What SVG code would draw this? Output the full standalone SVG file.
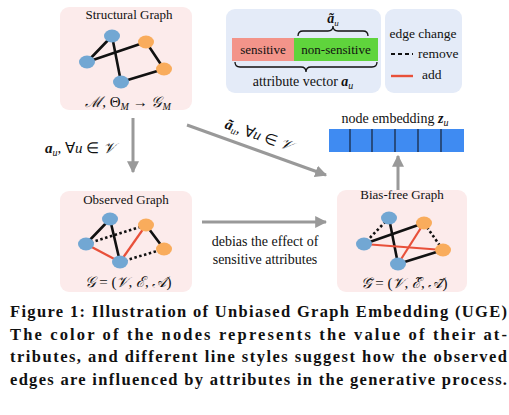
<svg xmlns="http://www.w3.org/2000/svg" width="509" height="415" viewBox="0 0 509 415">
<defs>
<marker id="ah" viewBox="0 0 10 10" refX="9" refY="5" markerWidth="4" markerHeight="4" orient="auto" markerUnits="strokeWidth">
<path d="M0,0 L10,5 L0,10 Z" fill="#999"/>
</marker>
<style>
.box{fill:#fcebeb;}
.abox{fill:#e4ebf8;}
.t{font-family:"Liberation Serif",serif;fill:#111;}
.m{font-family:"Liberation Serif",serif;font-style:italic;fill:#111;}
.e{stroke:#111;stroke-width:2.6;fill:none;stroke-linecap:round;}
.d{stroke:#111;stroke-width:2.6;fill:none;stroke-dasharray:2.5 2.5;}
.r{stroke:#e8503a;stroke-width:2.2;fill:none;}
.nb{fill:#72a7d3;}
.no{fill:#f9ac5c;}
.arr{stroke:#999;stroke-width:3;fill:none;marker-end:url(#ah);}
.cap{font-family:"Liberation Serif",serif;font-weight:bold;font-size:16.5px;fill:#111;}
</style>
</defs>

<g id="connectors">
<line class="arr" x1="133" y1="118" x2="133" y2="172"/>
<line class="arr" x1="187" y1="125" x2="326" y2="175"/>
<line class="arr" x1="202" y1="222" x2="326" y2="222"/>
<line class="arr" x1="398" y1="190" x2="398" y2="156"/>
<text class="m" x="45" y="153" font-size="15"><tspan font-weight="bold">a</tspan><tspan font-size="10" dy="3">u</tspan><tspan dy="-3" font-style="normal">, ∀</tspan>u<tspan font-style="normal"> ∈ </tspan>𝒱</text>
<text class="m" font-size="15" transform="translate(224,128) rotate(19.6)"><tspan font-weight="bold">ã</tspan><tspan font-size="10" dy="3">u</tspan><tspan dy="-3" font-style="normal">, ∀</tspan>u<tspan font-style="normal"> ∈ </tspan>𝒱</text>
<text class="t" x="265" y="246" font-size="14" text-anchor="middle">debias the effect of</text>
<text class="t" x="265" y="264" font-size="14" text-anchor="middle">sensitive attributes</text>
</g>

<g id="structural-graph">
<rect class="box" x="60" y="7" width="132" height="103" rx="9"/>
<text class="t" x="129" y="19" font-size="13" text-anchor="middle">Structural Graph</text>
<line class="e" x1="112" y1="36" x2="87" y2="62"/>
<line class="e" x1="112" y1="36" x2="121" y2="82"/>
<line class="e" x1="87" y1="62" x2="146" y2="42"/>
<line class="e" x1="146" y1="42" x2="164" y2="69"/>
<line class="e" x1="164" y1="69" x2="121" y2="82"/>
<ellipse class="nb" cx="112" cy="36" rx="8" ry="6.5"/>
<ellipse class="nb" cx="87" cy="62" rx="8" ry="6.5"/>
<ellipse class="nb" cx="121" cy="82" rx="8" ry="6.5"/>
<ellipse class="no" cx="146" cy="42" rx="8" ry="6.5"/>
<ellipse class="no" cx="164" cy="69" rx="8" ry="6.5"/>
<text class="m" x="128" y="107" font-size="15" text-anchor="middle">ℳ<tspan font-style="normal">, Θ</tspan><tspan font-size="10" dy="3">M</tspan><tspan dy="-3" font-style="normal"> → </tspan>𝒢<tspan font-size="10" dy="3">M</tspan></text>
</g>

<g id="attribute-vector">
<rect class="abox" x="226" y="9" width="155" height="84" rx="9"/>
<rect x="232" y="38" width="62" height="23" fill="#f3948a"/>
<rect x="294" y="38" width="84" height="23" fill="#5fd43c"/>
<text class="t" x="263" y="54" font-size="13" text-anchor="middle" fill="#333">sensitive</text>
<text class="t" x="336" y="54" font-size="13" text-anchor="middle">non-sensitive</text>
<path d="M298,36 Q298,31 303,31 L328,31 Q333,31 333,26 Q333,31 338,31 L363,31 Q368,31 368,36" fill="none" stroke="#111" stroke-width="1.3"/>
<path d="M235,62 Q235,67 240,67 L301,67 Q306,67 306,72 Q306,67 311,67 L372,67 Q377,67 377,62" fill="none" stroke="#111" stroke-width="1.3"/>
<text class="m" x="333" y="23" font-size="14" text-anchor="middle"><tspan font-weight="bold">ã</tspan><tspan font-size="9" dy="3">u</tspan></text>
<text class="t" x="303" y="86" font-size="14" text-anchor="middle">attribute vector <tspan font-style="italic" font-weight="bold">a</tspan><tspan font-style="italic" font-size="10" dy="3">u</tspan></text>
</g>

<g id="legend">
<rect class="abox" x="385" y="9" width="77" height="84" rx="9"/>
<text class="t" x="423" y="38" font-size="13.5" text-anchor="middle">edge change</text>
<line x1="391" y1="54" x2="413" y2="54" stroke="#111" stroke-width="2" stroke-dasharray="4 3"/>
<text class="t" x="418" y="58" font-size="13.5">remove</text>
<line x1="391" y1="76" x2="413" y2="76" stroke="#e8503a" stroke-width="2.4"/>
<text class="t" x="422" y="79" font-size="13.5">add</text>
</g>

<g id="node-embedding">
<text class="t" x="395" y="123" font-size="14" text-anchor="middle">node embedding <tspan font-style="italic" font-weight="bold">z</tspan><tspan font-style="italic" font-size="10" dy="3">u</tspan></text>
<rect x="329" y="129" width="135" height="23" fill="#3f8bf2"/>
<g stroke="#1a2a44" stroke-width="1.3">
<line x1="350" y1="129" x2="350" y2="152"/>
<line x1="372" y1="129" x2="372" y2="152"/>
<line x1="395" y1="129" x2="395" y2="152"/>
<line x1="418" y1="129" x2="418" y2="152"/>
<line x1="441" y1="129" x2="441" y2="152"/>
</g>
</g>

<g id="observed-graph">
<rect class="box" x="60" y="191" width="132" height="101" rx="9"/>
<text class="t" x="126" y="204" font-size="13" text-anchor="middle">Observed Graph</text>
<line class="e" x1="110" y1="219" x2="86" y2="244"/>
<line class="e" x1="110" y1="219" x2="120" y2="262"/>
<line class="d" x1="86" y1="244" x2="146" y2="225"/>
<line class="r" x1="86" y1="244" x2="120" y2="262"/>
<line class="r" x1="120" y1="262" x2="146" y2="225"/>
<line class="e" x1="146" y1="225" x2="164" y2="249"/>
<line class="d" x1="120" y1="262" x2="164" y2="249"/>
<ellipse class="nb" cx="110" cy="219" rx="8" ry="6.5"/>
<ellipse class="nb" cx="86" cy="244" rx="8" ry="6.5"/>
<ellipse class="nb" cx="120" cy="262" rx="8" ry="6.5"/>
<ellipse class="no" cx="146" cy="225" rx="8" ry="6.5"/>
<ellipse class="no" cx="164" cy="249" rx="8" ry="6.5"/>
<text class="m" x="128" y="287" font-size="15" text-anchor="middle">𝒢<tspan font-style="normal"> = (</tspan>𝒱<tspan font-style="normal">, </tspan>ℰ<tspan font-style="normal">, </tspan>𝒜<tspan font-style="normal">)</tspan></text>
</g>

<g id="bias-free-graph">
<rect class="box" x="337" y="190" width="130" height="102" rx="9"/>
<text class="t" x="402" y="199" font-size="13" text-anchor="middle">Bias-free Graph</text>
<line class="d" x1="389" y1="218" x2="364" y2="244"/>
<line class="e" x1="389" y1="218" x2="398" y2="264"/>
<line class="e" x1="364" y1="244" x2="424" y2="223"/>
<line class="r" x1="364" y1="244" x2="443" y2="250"/>
<line class="r" x1="398" y1="264" x2="424" y2="223"/>
<line class="d" x1="424" y1="223" x2="443" y2="250"/>
<line class="e" x1="398" y1="264" x2="443" y2="250"/>
<ellipse class="nb" cx="389" cy="218" rx="8" ry="6.5"/>
<ellipse class="nb" cx="364" cy="244" rx="8" ry="6.5"/>
<ellipse class="nb" cx="398" cy="264" rx="8" ry="6.5"/>
<ellipse class="no" cx="424" cy="223" rx="8" ry="6.5"/>
<ellipse class="no" cx="443" cy="250" rx="8" ry="6.5"/>
<text class="m" x="404" y="288" font-size="15" text-anchor="middle">𝒢̃<tspan font-style="normal"> = (</tspan>𝒱<tspan font-style="normal">, </tspan>ℰ̃<tspan font-style="normal">, </tspan>𝒜̃<tspan font-style="normal">)</tspan></text>
</g>

<g id="caption">
<text class="cap" x="10" y="317" textLength="497" lengthAdjust="spacing">Figure 1: Illustration of Unbiased Graph Embedding (UGE)</text>
<text class="cap" x="10" y="340" textLength="497" lengthAdjust="spacing">The color of the nodes represents the value of their at-</text>
<text class="cap" x="10" y="362" textLength="497" lengthAdjust="spacing">tributes, and different line styles suggest how the observed</text>
<text class="cap" x="10" y="385" textLength="497" lengthAdjust="spacing">edges are influenced by attributes in the generative process.</text>
</g>
</svg>
